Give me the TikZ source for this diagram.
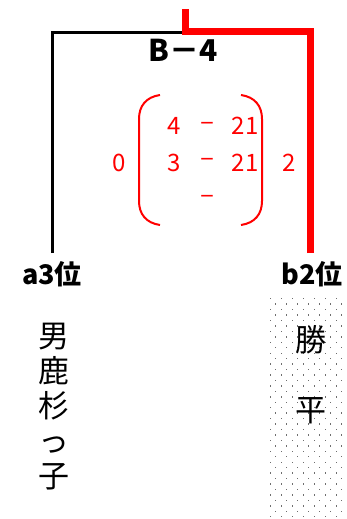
\documentclass[tikz,border=0pt]{standalone}
\usepackage{fontspec}
\setmainfont{Noto Sans CJK JP}
\usepackage{xcolor}
\usepackage{tikz}
\usetikzlibrary{positioning,calc}

\definecolor{winred}{RGB}{255,0,0}
\definecolor{dotgray}{RGB}{110,110,110}

\begin{document}
\begin{tikzpicture}[
  x=1pt, y=-1pt,
  num/.style={text=winred, inner sep=0pt, font=\fontsize{24}{24}\selectfont},
  tie/.style={text=winred, inner sep=0pt, font=\fontsize{26}{26}\selectfont},
  seed/.style={inner sep=3pt, font=\fontsize{27}{27}\selectfont\bfseries},
  player/.style={inner sep=0pt, align=center, font=\fontsize{31}{35}\selectfont},
  loser/.style={line width=3pt, draw=black},
  winner/.style={line width=7pt, draw=winred, line join=miter},
  paren/.style={line width=2pt, draw=winred}
]
\useasboundingbox (0,0) rectangle (347,519);

% dotted cell of the winner
\foreach \r in {0,...,40} {
  \foreach \k in {0,...,7} {
    \pgfmathsetmacro{\xx}{269.5+11*\k+5.5*mod(\r,2)}
    \pgfmathsetmacro{\yy}{298+5.45*\r}
    \ifdim\xx pt<346pt
      \fill[dotgray] (\xx,\yy) rectangle ++(1.4,1.4);
    \fi
  }
}

\node[font=\fontsize{30}{30}\selectfont\bfseries, inner sep=0pt] (match) at (183,50.5) {B－4};

% score
\node[num] (s11) at (174,126) {4};
\node[tie] (t1) at (207,126) {–};
\node[num] (s12) at (245,126) {21};
\node[num] (s21) at (174,163) {3};
\node[tie] (t2) at (207,162) {–};
\node[num] (s22) at (245,163) {21};
\node[tie] (t3) at (207,199) {–};
\node[num] (totA) at (119,163) {0};
\node[num] (totB) at (289,163) {2};

\draw[paren] (160,95) .. controls (146,97) and (139,106) .. (139,119) -- (139,201) .. controls (139,214) and (146,223) .. (160,225);
\draw[paren] (241,95) .. controls (255,97) and (262,106) .. (262,119) -- (262,201) .. controls (262,214) and (255,223) .. (241,225);

\node[seed] (aSeed) at (52,274) {a3位};
\node[seed] (bSeed) at (312,274) {b2位};

\node[player] (aName) at (54,407) {男\\鹿\\杉\\っ\\子};
\node[player] (bName) at (311,374.5) {勝\\[35pt]平};

\coordinate (aEnd) at (182,33);
\coordinate (bCorner) at (310,31.5);
\coordinate (winJoin) at (185,31.5);
\coordinate (winTop) at (185,9);

\draw[loser, shorten <=5pt] (aSeed.north) |- (aEnd);
\draw[winner, shorten <=5pt] (bSeed.north -| bCorner) |- (winJoin) -- (winTop);
\end{tikzpicture}
\end{document}
